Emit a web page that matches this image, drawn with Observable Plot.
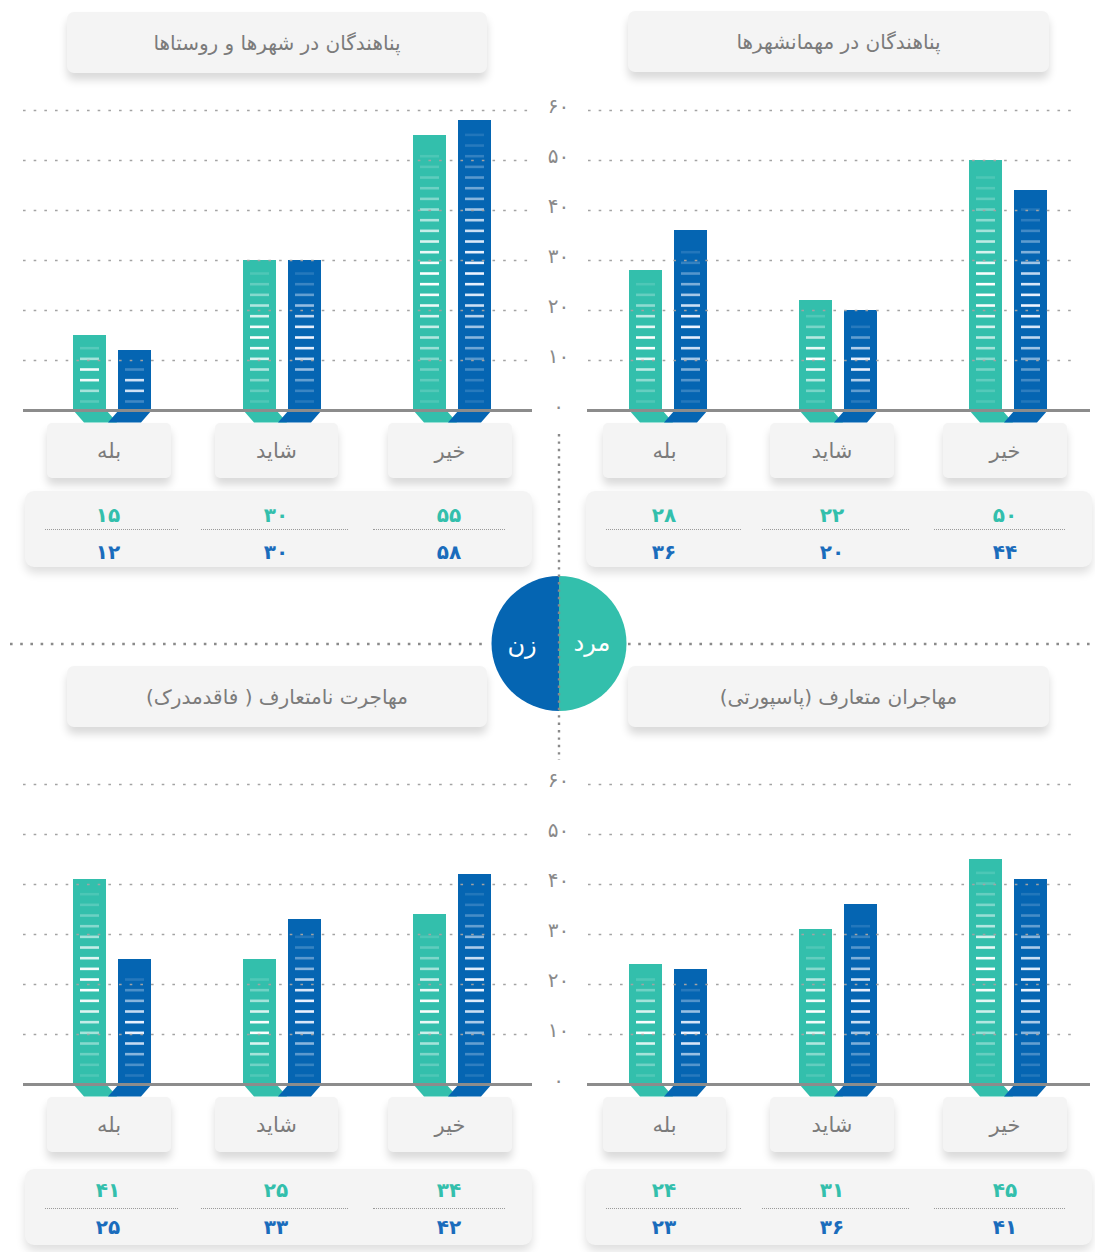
<!DOCTYPE html>
<html lang="fa">
<head>
<meta charset="utf-8">
<script src="https://cdn.jsdelivr.net/npm/d3@7"></script>
<script src="https://cdn.jsdelivr.net/npm/@observablehq/plot@0.6"></script>
<style>
html,body{margin:0;padding:0;background:#fff;}
#page{position:relative;width:1095px;height:1252px;overflow:hidden;font-family:"DejaVu Sans",sans-serif;}
.card{position:absolute;background:#f4f4f4;border-radius:7px;box-shadow:0 7px 9px rgba(0,0,0,0.15);display:flex;align-items:center;justify-content:center;color:#7b7b7b;direction:rtl;white-space:nowrap;}
.title{font-size:20px;}
.cat{font-size:21px;border-radius:5px;}
.table{position:absolute;background:#f4f4f4;border-radius:9px;box-shadow:0 6px 10px rgba(0,0,0,0.13);}
.num{position:absolute;transform:translate(-50%,-50%);font-size:20px;font-weight:bold;white-space:nowrap;}
.sep{position:absolute;height:0;border-top:1px dotted #9a9a9a;}
.chart{position:absolute;}
#decor{position:absolute;left:0;top:0;}
</style>
</head>
<body>
<div id="page"></div>
<script>
// ---------- data ----------
const categories = ["بله", "شاید", "خیر"];
const genders = ["مرد", "زن"];
const yTicks = [0, 10, 20, 30, 40, 50, 60];

const titleCities = "پناهندگان در شهرها و روستاها";
const titleCamps = "پناهندگان در مهمانشهرها";
const titleUndoc = "مهاجرت نامتعارف ( فاقدمدرک)";
const titleLegal = "مهاجران متعارف (پاسپورتی)";

const citiesMen = [15, 30, 55];
const citiesWomen = [12, 30, 58];
const campsMen = [28, 22, 50];
const campsWomen = [36, 20, 44];
const undocMen = [41, 25, 34];
const undocWomen = [25, 33, 42];
const legalMen = [24, 31, 45];
const legalWomen = [23, 36, 41];

// ---------- style ----------
const TEAL = "#33bfac";
const BLUE = "#0565b2";
const NUM_BLUE = "#1a6cbc";
const fa = v => String(v).replace(/\d/g, c => "۰۱۲۳۴۵۶۷۸۹"[c]);

const page = document.getElementById("page");

function el(cls, css, text) {
  const d = document.createElement("div");
  d.className = cls;
  Object.assign(d.style, css);
  if (text != null) d.textContent = text;
  page.appendChild(d);
  return d;
}

// ribbon symbols under bars
const ribbonMen = {draw(ctx) { ctx.moveTo(-16.5, 0); ctx.lineTo(16.5, 0); ctx.lineTo(27, 12); ctx.lineTo(-6, 12); ctx.closePath(); }};
const ribbonWomen = {draw(ctx) { ctx.moveTo(-16.5, 0); ctx.lineTo(16.5, 0); ctx.lineTo(6, 12); ctx.lineTo(-27, 12); ctx.closePath(); }};

function chart(men, women, o) {
  const rows = categories.flatMap((c, i) => [
    {cat: c, g: genders[0], v: men[i]},
    {cat: c, g: genders[1], v: women[i]}
  ]);
  const stripes = [];
  for (const r of rows) {
    const ys = [];
    for (let s = 1.8; s <= r.v - 2.4; s += 2.133) ys.push(s);
    ys.forEach((s, k) => {
      const t = (k + 0.5) / ys.length;
      stripes.push({cat: r.cat, g: r.g, y: s, o: 0.12 + 0.88 * Math.sin(Math.PI * t) ** 2});
    });
  }
  const M = rows.filter(d => d.g === genders[0]);
  const W = rows.filter(d => d.g === genders[1]);
  const p = Plot.plot({
    width: o.width, height: 330,
    marginTop: 15, marginBottom: 15, marginLeft: o.ml, marginRight: o.mr,
    x: {domain: categories, padding: 0, axis: null},
    y: {domain: [0, 60], axis: null},
    style: {background: "transparent", overflow: "visible", fontFamily: "DejaVu Sans, sans-serif"},
    marks: [
      Plot.barY(M, {x: "cat", y: "v", fill: TEAL, insetLeft: 46, insetRight: 91}),
      Plot.barY(W, {x: "cat", y: "v", fill: BLUE, insetLeft: 91, insetRight: 46}),
      Plot.tickY(stripes.filter(d => d.g === genders[0]), {x: "cat", y: "y", stroke: "white", strokeOpacity: "o", strokeWidth: 2.6, insetLeft: 53, insetRight: 98}),
      Plot.tickY(stripes.filter(d => d.g === genders[1]), {x: "cat", y: "y", stroke: "#eef4ff", strokeOpacity: "o", strokeWidth: 2.6, insetLeft: 98, insetRight: 53}),
      Plot.ruleY(yTicks.slice(1), {stroke: "#a3a3a3", strokeWidth: 1.3, strokeDasharray: "2.6,8.07", insetLeft: o.gl, insetRight: o.gr}),
      Plot.dot(M, {x: "cat", y: () => 0, dx: -22.5, symbol: ribbonMen, fill: TEAL, stroke: "none", r: 4}),
      Plot.dot(W, {x: "cat", y: () => 0, dx: 22.5, symbol: ribbonWomen, fill: BLUE, stroke: "none", r: 4}),
      Plot.ruleY([0], {stroke: "#8c8c8c", strokeWidth: 2.8, insetLeft: o.bl, insetRight: o.br}),
      o.labels ? Plot.text(yTicks, {y: d => d, text: d => fa(d), frameAnchor: "right", dx: 21, dy: -4, textAnchor: "middle", fill: "#8a8a8a", fontSize: 20}) : null
    ]
  });
  const wrap = el("chart", {left: o.left + "px", top: o.top + "px", width: o.width + "px", height: "330px"});
  wrap.appendChild(p);
}

function panel(title, men, women, side, dy, titleTop, tableTop, rowY) {
  const L = side === "left";
  // title card
  el("card title", {left: (L ? 67 : 628) + "px", top: titleTop + "px", width: (L ? 420 : 421) + "px", height: "61px"}, title);
  // category cards
  const cardX = L ? [[47, 171], [215, 338], [388, 512]] : [[603, 726], [770, 894], [943, 1067]];
  categories.forEach((c, i) => {
    el("card cat", {left: cardX[i][0] + "px", top: (423 + dy) + "px", width: (cardX[i][1] - cardX[i][0]) + "px", height: "55px"}, c);
  });
  // value table
  el("table", {left: (L ? 25 : 586) + "px", top: tableTop + "px", width: (L ? 507 : 506) + "px", height: "76px"});
  const numX = L ? [108, 276, 449] : [664, 832, 1005];
  const sepX = L ? [[45, 178], [201, 348], [373, 505]] : [[606, 741], [762, 909], [934, 1065]];
  categories.forEach((c, i) => {
    el("num", {left: numX[i] + "px", top: rowY[0] + "px", color: TEAL}, fa(men[i]));
    el("sep", {left: sepX[i][0] + "px", top: rowY[1] + "px", width: (sepX[i][1] - sepX[i][0]) + "px"});
    el("num", {left: numX[i] + "px", top: rowY[2] + "px", color: NUM_BLUE}, fa(women[i]));
  });
  // chart
  if (L) chart(men, women, {left: 0, top: 95 + dy, width: 580, ml: 27, mr: 43, gl: -4, gr: 9, bl: -4, br: 5, labels: true});
  else chart(men, women, {left: 560, top: 95 + dy, width: 535, ml: 23, mr: 2, gl: 5, gr: 18, bl: 4, br: 3, labels: false});
}

panel(titleCities, citiesMen, citiesWomen, "left", 0, 12, 491, [515, 529, 552]);
panel(titleCamps, campsMen, campsWomen, "right", 0, 11, 491, [515, 529, 552]);
panel(titleUndoc, undocMen, undocWomen, "left", 674, 666, 1169, [1190, 1208, 1227]);
panel(titleLegal, legalMen, legalWomen, "right", 674, 666, 1169, [1190, 1208, 1227]);

// ---------- center legend / dividers ----------
const ns = "http://www.w3.org/2000/svg";
const svg = document.createElementNS(ns, "svg");
svg.setAttribute("id", "decor");
svg.setAttribute("width", 1095);
svg.setAttribute("height", 1252);
svg.innerHTML = `
  <line x1="10" x2="489" y1="644" y2="644" stroke="#8a8a8a" stroke-width="2.6" stroke-dasharray="2.6 7.6"/>
  <line x1="628" x2="1092" y1="644" y2="644" stroke="#8a8a8a" stroke-width="2.6" stroke-dasharray="2.6 7.6"/>
  <path d="M559,576 A67.5,67.5 0 0 0 559,711 Z" fill="${BLUE}"/>
  <path d="M559,576 A67.5,67.5 0 0 1 559,711 Z" fill="${TEAL}"/>
  <line x1="559" x2="559" y1="434" y2="760" stroke="#8a8a8a" stroke-width="2.4" stroke-dasharray="2.4 5"/>
  <text x="522" y="653" fill="#fff" font-size="24" text-anchor="middle" font-family="DejaVu Sans, sans-serif">${genders[1]}</text>
  <text x="592" y="651" fill="#fff" font-size="24" text-anchor="middle" font-family="DejaVu Sans, sans-serif">${genders[0]}</text>
`;
page.appendChild(svg);
</script>
</body>
</html>
